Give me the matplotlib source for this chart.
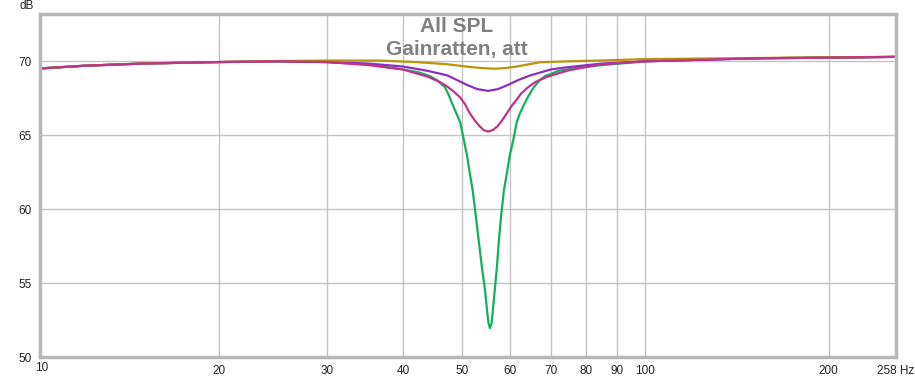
import matplotlib
matplotlib.use('Agg')
import matplotlib.pyplot as plt
import matplotlib.ticker as ticker

# values (Hz, dB)
green_f = [10, 12, 15, 20, 25, 30, 35, 40, 42.5, 44.3, 45.6, 46.9, 47.6, 48.3, 49.0, 49.7, 50.4,
           51.0, 51.5, 52.1, 52.7, 53.3, 53.9, 54.6, 55.0, 55.3, 55.6, 55.95, 56.2, 56.6, 57.1,
           57.5, 58.0, 58.6, 59.3, 59.9, 60.7, 61.5, 62.3, 63.2, 64.3, 65.5, 67, 68.5, 72, 80, 100,
           150, 200, 258]
green_db = [69.5, 69.7, 69.85, 69.95, 70.0, 69.95, 69.8, 69.45, 69.25, 69.0, 68.7, 68.25, 67.7,
            67.05, 66.45, 65.86, 64.64, 63.6, 62.47, 61.25, 59.55, 57.86, 56.16, 54.46, 53.1, 52.3,
            51.95, 52.3, 53.1, 54.46, 56.16, 57.86, 59.55, 61.25, 62.47, 63.6, 64.64, 65.86, 66.5,
            67.05, 67.65, 68.2, 68.7, 69.0, 69.35, 69.65, 70.0, 70.2, 70.25, 70.3]

magenta_f = [10, 12, 15, 20, 25, 30, 35, 40, 44, 46, 47.3, 48.5, 49.7, 50.6, 51.5, 52.5, 53.5,
             54.3, 55.2, 56.2, 57.2, 58.2, 59.3, 60.4, 61.5, 62.5, 64, 66, 69, 75, 85, 100, 150,
             200, 258]
magenta_db = [69.5, 69.7, 69.85, 69.95, 70.0, 69.95, 69.75, 69.45, 68.95, 68.6, 68.3, 67.95, 67.55,
              67.1, 66.5, 66.0, 65.6, 65.35, 65.25, 65.35, 65.6, 66.0, 66.5, 67.0, 67.4, 67.8, 68.2,
              68.6, 68.95, 69.4, 69.8, 70.0, 70.2, 70.25, 70.3]

purple_f = [10, 12, 15, 20, 25, 30, 35, 40, 44, 47.3, 49, 51, 53, 55.2, 57.3, 59.5, 62, 64.8, 70,
            74.5, 85, 100, 150, 200, 258]
purple_db = [69.5, 69.7, 69.85, 69.95, 70.0, 69.95, 69.85, 69.65, 69.35, 69.05, 68.75, 68.4, 68.12,
             68.0, 68.12, 68.4, 68.75, 69.05, 69.45, 69.6, 69.85, 70.0, 70.2, 70.25, 70.3]

gold_f = [10, 12, 15, 20, 25, 30, 36.6, 42, 47.3, 52, 54.5, 56.6, 58.5, 61, 67, 75, 84, 100, 150,
          200, 258]
gold_db = [69.5, 69.7, 69.85, 69.95, 70.02, 70.05, 70.05, 69.95, 69.8, 69.6, 69.53, 69.5, 69.53,
           69.62, 69.93, 70.0, 70.05, 70.15, 70.22, 70.27, 70.3]

x_ticks = [10, 20, 30, 40, 50, 60, 70, 80, 90, 100, 200, 258]
x_labels = ['10', '20', '30', '40', '50', '60', '70', '80', '90', '100', '200', '258 Hz']
y_ticks = [50, 55, 60, 65, 70]

plt.rcParams['font.family'] = ['Liberation Sans', 'DejaVu Sans']

fig = plt.figure(figsize=(9.15, 3.79), dpi=100)
ax = fig.add_axes([40 / 915, 1 - 357 / 379, 856 / 915, 343 / 379])

ax.plot(green_f, green_db, color='#12b05e', lw=1.6)
ax.plot(purple_f, purple_db, color='#8a2fbf', lw=1.6)
ax.plot(gold_f, gold_db, color='#b8940c', lw=1.6)
ax.plot(magenta_f, magenta_db, color='#c0338a', lw=1.6)

ax.set_xscale('log')
ax.set_xlim(10.15, 258)
ax.set_ylim(50, 73.2)
ax.xaxis.set_major_locator(ticker.FixedLocator(x_ticks))
ax.xaxis.set_major_formatter(ticker.FixedFormatter(x_labels))
ax.xaxis.set_minor_locator(ticker.NullLocator())
ax.set_yticks(y_ticks)
ax.grid(True, color='#c4c4c4', lw=1)
ax.tick_params(length=0, labelsize=8.5, colors='#222222', pad=6)
for s in ax.spines.values():
    s.set_color('#b8b8b8')
    s.set_linewidth(2.5)

fig.text(20 / 915, 1 - 6 / 379, 'dB', fontsize=8.5, color='#222222', ha='left', va='center')
# "10" sits at the left frame edge
fig.text(42 / 915, 1 - 368 / 379, '10', fontsize=8.5, color='#222222', ha='center', va='center')

fig.text(457 / 915, 1 - 27 / 379, 'All SPL', fontsize=15, fontweight='bold', color='#808080',
         ha='center', va='center')
fig.text(457 / 915, 1 - 50 / 379, 'Gainratten, att', fontsize=15, fontweight='bold', color='#808080',
         ha='center', va='center')

fig.savefig('out.png', dpi=100)
